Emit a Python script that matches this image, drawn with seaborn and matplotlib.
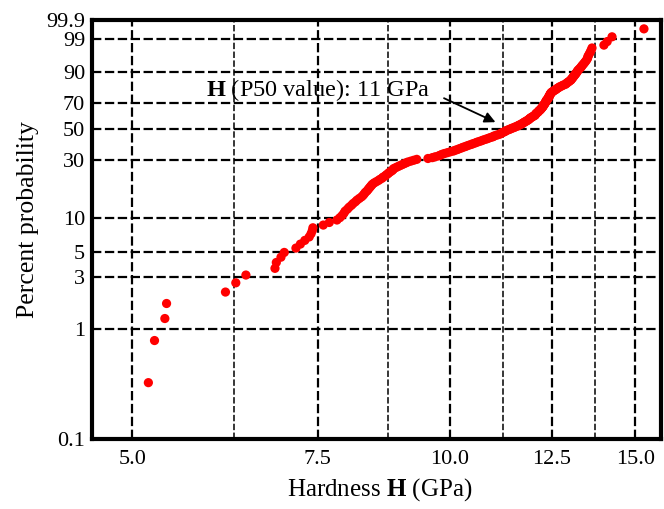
import numpy as np
import pandas as pd
import matplotlib
matplotlib.use("Agg")
import matplotlib.pyplot as plt
import seaborn as sns

# Measured hardness values (GPa), sorted ascending
hardness = [
    5.18, 5.25, 5.37, 5.39, 6.13, 6.27, 6.41, 6.83, 6.85, 6.92,
    6.97, 7.15, 7.22, 7.29, 7.36, 7.39, 7.41, 7.42, 7.59, 7.69,
    7.82, 7.87, 7.91, 7.94, 7.96, 8.00, 8.03, 8.07, 8.10, 8.14,
    8.17, 8.21, 8.25, 8.28, 8.30, 8.32, 8.35, 8.37, 8.39, 8.41,
    8.43, 8.45, 8.48, 8.52, 8.56, 8.59, 8.63, 8.65, 8.69, 8.71,
    8.74, 8.76, 8.79, 8.82, 8.84, 8.85, 8.89, 8.93, 8.97, 9.01,
    9.05, 9.09, 9.13, 9.19, 9.25, 9.31, 9.54, 9.63, 9.69, 9.76,
    9.80, 9.84, 9.89, 9.95, 10.01, 10.08, 10.12, 10.17, 10.21, 10.26,
    10.30, 10.35, 10.39, 10.44, 10.49, 10.53, 10.58, 10.62, 10.67, 10.72,
    10.76, 10.81, 10.86, 10.90, 10.95, 11.00, 11.02, 11.07, 11.12, 11.17,
    11.19, 11.22, 11.26, 11.29, 11.31, 11.35, 11.39, 11.43, 11.46, 11.51,
    11.54, 11.58, 11.62, 11.64, 11.68, 11.71, 11.73, 11.76, 11.78, 11.81,
    11.84, 11.86, 11.89, 11.90, 11.92, 11.94, 11.97, 11.99, 12.02, 12.05,
    12.06, 12.07, 12.08, 12.10, 12.12, 12.14, 12.15, 12.16, 12.19, 12.20,
    12.21, 12.23, 12.24, 12.25, 12.27, 12.27, 12.28, 12.29, 12.31, 12.32,
    12.32, 12.33, 12.35, 12.35, 12.36, 12.37, 12.39, 12.40, 12.41, 12.42,
    12.42, 12.44, 12.45, 12.45, 12.46, 12.48, 12.48, 12.51, 12.53, 12.56,
    12.59, 12.62, 12.64, 12.67, 12.70, 12.73, 12.78, 12.81, 12.87, 12.90,
    12.92, 12.95, 12.98, 13.01, 13.04, 13.05, 13.07, 13.09, 13.11, 13.12,
    13.15, 13.17, 13.18, 13.21, 13.22, 13.24, 13.27, 13.30, 13.33, 13.35,
    13.38, 13.41, 13.44, 13.47, 13.50, 13.52, 13.53, 13.56, 13.59, 13.62,
    13.65, 14.01, 14.11, 14.26, 15.29,
]

x_major = [5.0, 7.5, 10.0, 12.5, 15.0]
x_major_labels = ["5.0", "7.5", "10.0", "12.5", "15.0"]
x_minor = [6.25, 8.75, 11.25, 13.75]
y_ticks = [0.1, 1, 3, 5, 10, 30, 50, 70, 90, 99, 99.9]
y_tick_labels = ["0.1", "1", "3", "5", "10", "30", "50", "70", "90", "99", "99.9"]

p50_value = 11.0

# Median-rank (Bernard) plotting positions for the Weibull probability plot
n = len(hardness)
ranks = np.arange(1, n + 1)
percent = (ranks - 0.3) / (n + 0.4) * 100.0
df = pd.DataFrame({"H": hardness, "P": percent})

sns.set_theme(style="white")
plt.rcParams["font.family"] = ["Liberation Serif", "DejaVu Serif"]
plt.rcParams["mathtext.fontset"] = "custom"
plt.rcParams["mathtext.rm"] = "Liberation Serif"
plt.rcParams["mathtext.bf"] = "Liberation Serif:bold"


def weibull_fwd(p):
    p = np.clip(np.asarray(p, dtype=float), 1e-9, 100 - 1e-9) / 100.0
    return np.log(-np.log(1.0 - p))


def weibull_inv(z):
    z = np.asarray(z, dtype=float)
    return 100.0 * (1.0 - np.exp(-np.exp(z)))


fig = plt.figure(figsize=(6.64, 5.09), dpi=100)
ax = fig.add_axes([92 / 664, 1 - 438.5 / 509, 569 / 664, 418.5 / 509])

sns.scatterplot(data=df, x="H", y="P", ax=ax, color="#ff0000", s=44,
                edgecolor="none", linewidth=0, zorder=3)

ax.set_xscale("log")
ax.set_yscale("function", functions=(weibull_fwd, weibull_inv))
ax.set_xlim(4.58, 15.87)
ax.set_ylim(0.1, 99.9)

ax.set_xticks(x_major)
ax.set_xticklabels(x_major_labels)
ax.set_xticks(x_minor, minor=True)
ax.set_xticklabels([""] * len(x_minor), minor=True)
ax.set_yticks(y_ticks)
ax.set_yticklabels(y_tick_labels)
ax.yaxis.set_minor_locator(matplotlib.ticker.NullLocator())

ax.tick_params(axis="both", which="both", length=0, labelsize=16, colors="black")
ax.tick_params(axis="x", pad=8)
ax.tick_params(axis="y", pad=5)

dash = (0, (4.2, 1.6))
ax.set_axisbelow(True)
ax.grid(True, which="major", axis="both", color="black", linestyle=dash, linewidth=1.6)
ax.grid(True, which="minor", axis="x", color="black", linestyle=dash, linewidth=1.1)

for side in ["left", "right", "top", "bottom"]:
    ax.spines[side].set_visible(True)
    ax.spines[side].set_color("black")
    ax.spines[side].set_linewidth(3.0)

ax.set_xlabel(r"Hardness $\mathbf{H}$ (GPa)", fontsize=18, color="black")
ax.set_ylabel("Percent probability", fontsize=18.5, color="black")
ax.xaxis.set_label_coords(0.506, -0.123)
ax.xaxis.label.set_va("center")
ax.yaxis.set_label_coords(-0.112, 0.522)
ax.yaxis.label.set_va("center")

ax.text(5.88, 79, r"$\mathbf{H}$ (P50 value): 11 GPa", fontsize=17.5,
        ha="left", va="center", color="black", zorder=4)
ax.annotate("", xy=(p50_value * 1.005, 55), xytext=(9.88, 73.4),
            arrowprops=dict(arrowstyle="-|>", color="black", lw=1.3,
                            mutation_scale=16, shrinkA=0, shrinkB=0),
            zorder=4)

fig.savefig("out.png", dpi=100, facecolor="white")
